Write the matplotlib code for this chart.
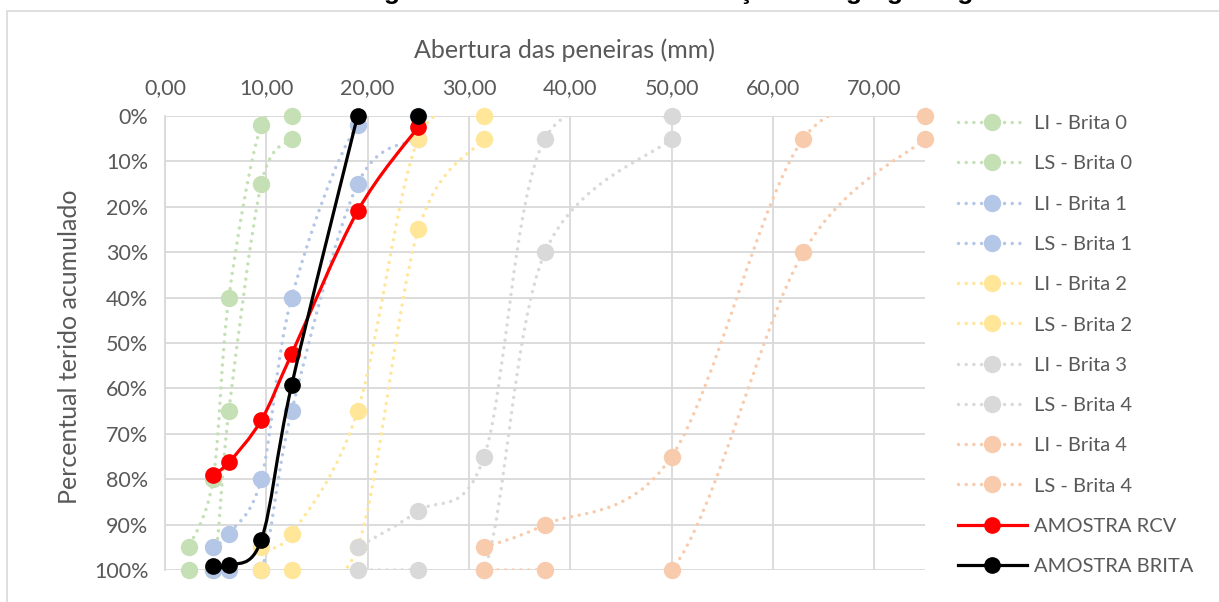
import matplotlib
matplotlib.use('Agg')
import matplotlib.pyplot as plt
from matplotlib.path import Path
from matplotlib.patches import PathPatch, Rectangle
from matplotlib.lines import Line2D
from matplotlib.ticker import FuncFormatter, MultipleLocator

plt.rcParams['font.family'] = ['Lato', 'DejaVu Sans']

# abertura das peneiras (mm) e percentual retido acumulado (%)
b0_x = [12.5, 9.5, 6.3, 4.75, 2.36]
li_b0 = [0, 2, 40, 80, 95]
ls_b0 = [5, 15, 65, 100, 100]

b1_x = [25, 19, 12.5, 9.5, 6.3, 4.75]
li_b1 = [0, 2, 40, 80, 92, 95]
ls_b1 = [5, 15, 65, 100, 100, 100]

b2_x = [31.5, 25, 19, 12.5, 9.5]
li_b2 = [0, 5, 65, 92, 95]
ls_b2 = [5, 25, 95, 100, 100]

b3_x = [50, 37.5, 31.5, 25, 19]
li_b3 = [0, 5, 75, 87, 95]
ls_b3 = [5, 30, 100, 100, 100]

b4_x = [75, 63, 50, 37.5, 31.5]
li_b4 = [0, 5, 75, 90, 95]
ls_b4 = [5, 30, 100, 100, 100]

amostra_x = [25, 19, 12.5, 9.5, 6.3, 4.75]
rcv = [2.4, 21, 52.4, 67, 76.3, 79]
brita = [0, 0, 59.3, 93.4, 99, 99.2]

titulo = 'Gráfico 1 - Curva granulométrica de classificação do agregado graúdo'
cinza_txt = '#595959'
grade = '#d9d9d9'


def suave(xs, ys):
    # curva suavizada estilo Excel (bezier cubica)
    pts = list(zip(xs, ys))
    n = len(pts)
    verts = [pts[0]]
    codes = [Path.MOVETO]
    for i in range(n - 1):
        p0 = pts[i - 1] if i > 0 else pts[i]
        p1 = pts[i]
        p2 = pts[i + 1]
        p3 = pts[i + 2] if i + 2 < n else pts[i + 1]
        c1 = (p1[0] + (p2[0] - p0[0]) / 6, p1[1] + (p2[1] - p0[1]) / 6)
        c2 = (p2[0] - (p3[0] - p1[0]) / 6, p2[1] - (p3[1] - p1[1]) / 6)
        verts += [c1, c2, p2]
        codes += [Path.CURVE4] * 3
    return Path(verts, codes)


fig = plt.figure(figsize=(12.19, 6.02), dpi=100)
ax = fig.add_axes([165 / 1219, 1 - 570 / 602, 760 / 1219, 454 / 602])

pontilhado = (0, (0.01, 2.2))
series = [
    ('LI - Brita 0', b0_x, li_b0, '#c5e0b4'),
    ('LS - Brita 0', b0_x, ls_b0, '#c5e0b4'),
    ('LI - Brita 1', b1_x, li_b1, '#b4c7e7'),
    ('LS - Brita 1', b1_x, ls_b1, '#b4c7e7'),
    ('LI - Brita 2', b2_x, li_b2, '#ffe699'),
    ('LS - Brita 2', b2_x, ls_b2, '#ffe699'),
    ('LI - Brita 3', b3_x, li_b3, '#d9d9d9'),
    ('LS - Brita 4', b3_x, ls_b3, '#d9d9d9'),
    ('LI - Brita 4', b4_x, li_b4, '#f8cbad'),
    ('LS - Brita 4', b4_x, ls_b4, '#f8cbad'),
]

handles = []
z = 3
for nome, xs, ys, cor in series:
    ax.add_patch(PathPatch(suave(xs, ys), fill=False, edgecolor=cor, lw=2.5,
                           linestyle=pontilhado, capstyle='round', zorder=z))
    ax.plot(xs, ys, ls='none', marker='o', ms=11.5, color=cor, mec=cor,
            clip_on=False, zorder=z + 0.5)
    handles.append(Line2D([], [], color=cor, lw=2.5, ls=pontilhado,
                          dash_capstyle='round', marker='o', ms=11.5, mec=cor,
                          label=nome))
    z += 1

ax.add_patch(PathPatch(suave(amostra_x, rcv), fill=False, edgecolor='#ff0000',
                       lw=2.3, zorder=z))
ax.plot(amostra_x, rcv, ls='none', marker='o', ms=11, color='#ff0000',
        clip_on=False, zorder=z + 0.5)
handles.append(Line2D([], [], color='#ff0000', lw=2.3, marker='o', ms=11,
                      label='AMOSTRA RCV'))
z += 1
ax.add_patch(PathPatch(suave(amostra_x[1:], brita[1:]), fill=False,
                       edgecolor='black', lw=2.3, zorder=z))
ax.plot(amostra_x, brita, ls='none', marker='o', ms=11, color='black',
        clip_on=False, zorder=z + 0.5)
handles.append(Line2D([], [], color='black', lw=2.3, marker='o', ms=11,
                      label='AMOSTRA BRITA'))

ax.set_xlim(0, 75)
ax.set_ylim(100, 0)
ax.xaxis.set_major_locator(MultipleLocator(10))
ax.yaxis.set_major_locator(MultipleLocator(10))
ax.xaxis.set_major_formatter(FuncFormatter(lambda v, p: f'{v:.2f}'.replace('.', ',')))
ax.yaxis.set_major_formatter(FuncFormatter(lambda v, p: f'{v:.0f}%'))
ax.xaxis.tick_top()
ax.tick_params(length=0, labelsize=15.5, labelcolor=cinza_txt)
ax.tick_params(axis='x', pad=13)
ax.tick_params(axis='y', pad=12)
ax.grid(True, color=grade, lw=1.3)
ax.set_axisbelow(True)
for s in ['top', 'right', 'bottom']:
    ax.spines[s].set_visible(False)
ax.spines['left'].set_color(grade)
ax.spines['left'].set_linewidth(1.3)

fig.text(565 / 1219, 1 - 50 / 602, 'Abertura das peneiras (mm)', ha='center',
         va='center', fontsize=18, color=cinza_txt)
fig.text(70 / 1219, 1 - 347 / 602, 'Percentual terido acumulado', ha='center',
         va='center', rotation=90, fontsize=18, color=cinza_txt)
fig.text(605 / 1219, 1 + 1 / 602, titulo, ha='center', va='baseline',
         fontsize=19, fontweight='bold', color='black',
         family=['Liberation Sans', 'DejaVu Sans'])

fig.legend(handles=handles, loc='upper left',
           bbox_to_anchor=(940 / 1219, 1 - 97 / 602), frameon=False,
           fontsize=14.5, labelcolor=cinza_txt, handlelength=3.4,
           labelspacing=1.15, handletextpad=0.35)

fig.patches.append(Rectangle((7 / 1219, -0.1), 1.2, 1.1 - 11 / 602,
                             transform=fig.transFigure, fill=False,
                             ec=grade, lw=1.2))

fig.savefig('out.png', dpi=100)
